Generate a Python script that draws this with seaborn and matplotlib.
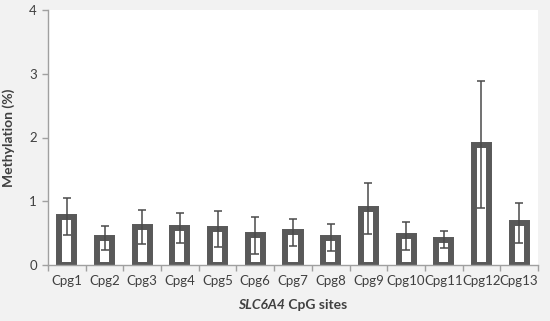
import numpy as np
import pandas as pd
import seaborn as sns
import matplotlib
matplotlib.use("Agg")
import matplotlib.pyplot as plt
from matplotlib.offsetbox import TextArea, HPacker, AnnotationBbox

# ── Data ──────────────────────────────────────────────────────────────────────
sites = ["Cpg1", "Cpg2", "Cpg3", "Cpg4", "Cpg5", "Cpg6", "Cpg7",
         "Cpg8", "Cpg9", "Cpg10", "Cpg11", "Cpg12", "Cpg13"]
methylation = [0.76, 0.42, 0.60, 0.58, 0.57, 0.47, 0.51,
               0.43, 0.88, 0.45, 0.40, 1.89, 0.66]
sd = [0.29, 0.19, 0.27, 0.23, 0.28, 0.29, 0.21,
      0.21, 0.40, 0.22, 0.14, 1.00, 0.32]
y_ticks = [0, 1, 2, 3, 4]

df = pd.DataFrame({"site": sites, "value": methylation, "sd": sd})

# ── Style ─────────────────────────────────────────────────────────────────────
sns.set_style("white")
plt.rcParams["font.family"] = ["Lato", "DejaVu Sans"]
BG = "#f2f2f2"
EDGE = "#595959"
AXIS = "#a0a0a0"
TEXT = "#404040"

fig = plt.figure(figsize=(5.5, 3.21), dpi=100, facecolor=BG)
ax = fig.add_axes([48 / 550, 56 / 321, 490 / 550, 255 / 321])
ax.set_facecolor("white")

sns.barplot(data=df, x="site", y="value", errorbar=None, width=0.40,
            color="white", edgecolor=EDGE, linewidth=4.3, ax=ax, zorder=2)

ax.errorbar(x=np.arange(len(sites)), y=df["value"], yerr=df["sd"],
            fmt="none", ecolor="#4a4a4a", elinewidth=1.1, capsize=3.2,
            capthick=1.1, zorder=3)

# axes
ax.set_xlim(-0.5, len(sites) - 0.5)
ax.set_ylim(0, 4)
ax.set_yticks(y_ticks)
for side in ["top", "right"]:
    ax.spines[side].set_visible(False)
for side in ["left", "bottom"]:
    ax.spines[side].set_color(AXIS)
    ax.spines[side].set_linewidth(1.0)

# x ticks between categories
ax.set_xticks(np.arange(len(sites)))
ax.set_xticklabels(sites)
ax.set_xticks(np.arange(-0.5, len(sites)), minor=True)
ax.tick_params(axis="x", which="major", length=0, pad=7,
               labelsize=9.5, labelcolor=TEXT)
ax.tick_params(axis="x", which="minor", length=4, width=1.0,
               color=AXIS, direction="out", bottom=True)
ax.tick_params(axis="y", length=4, width=1.0, color=AXIS, direction="out",
               left=True, pad=4, labelsize=9.5, labelcolor=TEXT)

ax.set_xlabel("")
ax.set_ylabel("Methylation (%)", fontsize=10, fontweight="bold",
              color=TEXT, labelpad=10)

# x label: italic gene name + bold rest
t1 = TextArea("SLC6A4", textprops=dict(fontsize=10, fontweight="bold",
                                        fontstyle="italic", color=TEXT))
t2 = TextArea(" CpG sites", textprops=dict(fontsize=10, fontweight="bold",
                                            color=TEXT))
box = HPacker(children=[t1, t2], align="baseline", pad=0, sep=0)
ab = AnnotationBbox(box, (0.5, -0.155), xycoords="axes fraction",
                    frameon=False, box_alignment=(0.5, 0.5))
ax.add_artist(ab)

fig.savefig("out.png", dpi=100, facecolor=BG)
